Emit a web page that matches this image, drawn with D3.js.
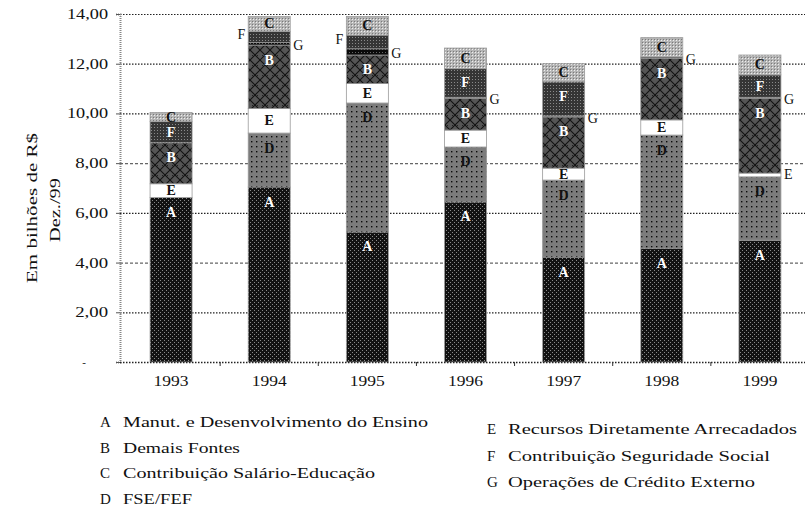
<!DOCTYPE html>
<html><head><meta charset="utf-8">
<script src="https://cdn.jsdelivr.net/npm/d3@7"></script>
<style>body{margin:0;background:#fff}svg{display:block}svg text{font-family:"Liberation Serif","Times New Roman",serif !important}</style>
</head><body>
<svg id="c" width="805" height="507" font-family="Liberation Serif"></svg>
<script>
// ---- data ----
const years = ["1993","1994","1995","1996","1997","1998","1999"];
const serA = [6.62, 7.04, 5.23, 6.44, 4.22, 4.58, 4.90]; // Manut. e Desenvolvimento do Ensino
const serD = [0.00, 2.17, 5.19, 2.21, 3.10, 4.55, 2.55]; // FSE/FEF
const serE = [0.55, 0.99, 0.78, 0.68, 0.48, 0.61, 0.15]; // Recursos Diretamente Arrecadados
const serB = [1.65, 2.55, 1.15, 1.27, 2.06, 2.48, 3.00]; // Demais Fontes
const serG = [0.00, 0.10, 0.25, 0.05, 0.04, 0.05, 0.05]; // Operações de Crédito Externo
const serF = [0.85, 0.45, 0.55, 1.15, 1.37, 0.00, 0.90]; // Contribuição Seguridade Social
const serC = [0.37, 0.60, 0.75, 0.83, 0.73, 0.78, 0.80]; // Contribuição Salário-Educação
const stackKeys = ["A","D","E","B","G","F","C"];
const legendLeftKeys = ["A","B","C","D"];
const legendLeftNames = ["Manut. e Desenvolvimento do Ensino","Demais Fontes","Contribuição Salário-Educação","FSE/FEF"];
const legendRightKeys = ["E","F","G"];
const legendRightNames = ["Recursos Diretamente Arrecadados","Contribuição Seguridade Social","Operações de Crédito Externo"];
const yTickValues = [0,2,4,6,8,10,12,14];
const yTickLabels = ["-","2,00","4,00","6,00","8,00","10,00","12,00","14,00"];
const yTitle = ["Em bilhões de R$","Dez./99"];

const FONT = "Liberation Serif";
const seriesMap = {A:serA,D:serD,E:serE,B:serB,G:serG,F:serF,C:serC};
const rows = years.map((yr,i)=>{const r={year:yr}; stackKeys.forEach(k=>r[k]=seriesMap[k][i]); return r;});

const svg = d3.select("#c");
const defs = svg.append("defs");
function pat(id,w,h,bg,draw){
  const p = defs.append("pattern").attr("id",id).attr("width",w).attr("height",h).attr("patternUnits","userSpaceOnUse");
  p.append("rect").attr("width",w).attr("height",h).attr("fill",bg);
  draw(p); return p;
}
pat("pA",4,4,"#121212",p=>{p.append("rect").attr("x",0).attr("y",0).attr("width",1).attr("height",1).attr("fill","#8a8a8a");p.append("rect").attr("x",2).attr("y",2).attr("width",1).attr("height",1).attr("fill","#8a8a8a");});
pat("pD",5,5,"#7c7c7c",p=>{p.append("rect").attr("x",1).attr("y",1).attr("width",1.4).attr("height",1.4).attr("fill","#0a0a0a");});
pat("pB",10,10,"#555",p=>{p.append("path").attr("d","M0,0L10,10M10,0L0,10").attr("stroke","#111").attr("stroke-width",1.1);p.append("rect").attr("x",2).attr("y",5).attr("width",1).attr("height",1).attr("fill","#222");p.append("rect").attr("x",7).attr("y",5).attr("width",1).attr("height",1).attr("fill","#222");});
pat("pF",3,3,"#353535",p=>{p.append("rect").attr("x",1).attr("y",1).attr("width",1).attr("height",1).attr("fill","#8a8a8a");});
pat("pC",3,3,"#b5b5b5",p=>{p.append("rect").attr("x",1).attr("y",1).attr("width",1).attr("height",1).attr("fill","#eee");p.append("rect").attr("x",0).attr("y",0).attr("width",1).attr("height",1).attr("fill","#7a7a7a");});
pat("pG",3,3,"#0a0a0a",p=>{p.append("rect").attr("x",1).attr("y",1).attr("width",1).attr("height",1).attr("fill","#666");});
const fills = {A:"url(#pA)",D:"url(#pD)",E:"#ffffff",B:"url(#pB)",G:"url(#pG)",F:"url(#pF)",C:"url(#pC)"};
const labelColor = {A:"#fff",D:"#111",E:"#111",B:"#fff",G:"#111",F:"#fff",C:"#111"};

const x = d3.scaleBand().domain(years).range([122,809]).paddingInner(0.572).paddingOuter(0.286);
const y = d3.scaleLinear().domain([0,14]).range([362,14]);

// gridlines
svg.append("g").selectAll("line").data(yTickValues.filter(v=>v>0)).join("line")
  .attr("x1",120).attr("x2",805).attr("y1",d=>y(d)+0.5).attr("y2",d=>y(d)+0.5)
  .attr("stroke",d=> (d===4||d===8)?"#666":"#222").attr("stroke-width",1.2)
  .attr("stroke-dasharray",d=>(d===4||d===8)?"3,2":"1.5,1.5");

// bars
const stack = d3.stack().keys(stackKeys)(rows);
const gBars = svg.append("g");
stack.forEach(layer=>{
  gBars.append("g").selectAll("rect").data(layer.filter(d=>d[1]-d[0]>0)).join("rect")
    .attr("x",d=>x(d.data.year)).attr("width",x.bandwidth())
    .attr("y",d=>y(d[1])).attr("height",d=>y(d[0])-y(d[1]))
    .attr("fill",fills[layer.key]).attr("stroke","#9a9a9a").attr("stroke-width",0.8);
});

// axes
const yAxis = d3.axisLeft(y).tickValues(yTickValues).tickSize(4).tickFormat((d,i)=>yTickLabels[i]);
const gy = svg.append("g").attr("transform","translate(120,0)").call(yAxis).attr("font-family",FONT);
gy.select(".domain").attr("stroke","#888").attr("stroke-width",2).attr("stroke-dasharray","1,1");
gy.selectAll(".tick line").attr("stroke","#555");
gy.selectAll(".tick text").attr("x",-12).attr("font-size",14).attr("fill","#111").attr("font-family",FONT)
  .each(function(d,i){const t=d3.select(this); if(i===0){t.attr("x",-34).attr("font-size",11);} else t.attr("textLength",yTickLabels[i].length*8.2).attr("lengthAdjust","spacingAndGlyphs");});

const xAxis = d3.axisBottom(x).tickSize(0).tickPadding(14);
const gx = svg.append("g").attr("transform","translate(0,362)").call(xAxis).attr("font-family",FONT);
gx.select(".domain").attr("d","M120,0.5H805").attr("stroke","#222").attr("stroke-width",1.3).attr("stroke-dasharray","1.5,1.5");
gx.selectAll(".tick text").attr("font-size",14).attr("fill","#111").attr("font-family",FONT).attr("textLength",35).attr("lengthAdjust","spacingAndGlyphs");
// category boundary ticks
svg.append("g").selectAll("line").data(years.slice(1)).join("line")
  .attr("x1",d=>x(d)-x.step()*x.paddingInner()/2).attr("x2",d=>x(d)-x.step()*x.paddingInner()/2)
  .attr("y1",362).attr("y2",366).attr("stroke","#333");

// segment labels
const gLab = svg.append("g").attr("font-size",14).attr("font-family",FONT);
stack.forEach(layer=>{
  const k = layer.key;
  layer.forEach(d=>{
    const v = d[1]-d[0]; if(v<=0) return;
    const top = y(d[1]), bot = y(d[0]), mid=(top+bot)/2, h = bot-top;
    const xl = x(d.data.year), xr = xl + x.bandwidth(), xc = xl + x.bandwidth()/2;
    let tx=xc, ty=mid, anchor="middle", col=labelColor[k], weight="bold";
    if(k==="G"){ tx = xr+3; anchor="start"; col="#111"; weight="normal"; ty = mid+2; }
    else if(k==="F" && h<14){ tx = xl-3; anchor="end"; col="#111"; weight="normal"; ty = mid-2; }
    else if(k==="E" && h<6){ tx = xr+3; anchor="start"; weight="normal"; }
    else if(k==="A"||k==="D"||k==="B"||k==="F"){ ty = Math.min(top+15, mid); }
    gLab.append("text").attr("x",tx).attr("y",ty).attr("text-anchor",anchor).attr("font-family",FONT)
      .attr("dominant-baseline","central").attr("fill",col).attr("font-weight",weight).text(k);
  });
});

// y title
const gt = svg.append("g").attr("font-size",15).attr("fill","#111").attr("font-family",FONT);
gt.append("text").attr("transform","translate(37,208) rotate(-90)").attr("text-anchor","middle")
  .attr("textLength",150).attr("lengthAdjust","spacingAndGlyphs").text(yTitle[0]);
gt.append("text").attr("transform","translate(60,210) rotate(-90)").attr("text-anchor","middle")
  .attr("textLength",64).attr("lengthAdjust","spacingAndGlyphs").text(yTitle[1]);

// legend
const leftLens = [305,117,252,69];
const rightLens = [289,262,247];
const gl = svg.append("g").attr("font-size",15).attr("fill","#111").attr("font-family",FONT);
legendLeftKeys.forEach((k,i)=>{
  const yy = 427 + i*25.7;
  gl.append("text").attr("x",100).attr("y",yy).text(k);
  gl.append("text").attr("x",123).attr("y",yy).attr("font-size",14).attr("textLength",leftLens[i]).attr("lengthAdjust","spacingAndGlyphs").text(legendLeftNames[i]);
});
legendRightKeys.forEach((k,i)=>{
  const yy = 434 + i*26.5;
  gl.append("text").attr("x",487).attr("y",yy).text(k);
  gl.append("text").attr("x",508).attr("y",yy).attr("font-size",14).attr("textLength",rightLens[i]).attr("lengthAdjust","spacingAndGlyphs").text(legendRightNames[i]);
});
</script>
</body></html>
